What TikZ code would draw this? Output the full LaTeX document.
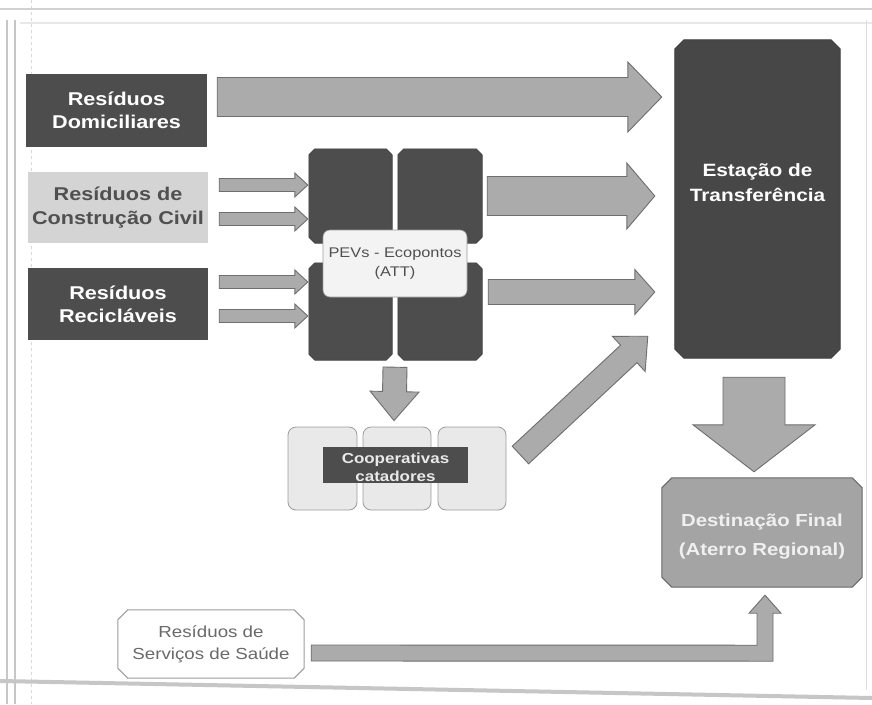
\documentclass[tikz,border=0pt]{standalone}
\usepackage{fontspec}
\setmainfont{Liberation Sans}[FakeStretch=1.17]
\usetikzlibrary{calc,backgrounds}

\definecolor{boxdark}{HTML}{4D4D4D}
\definecolor{boxdarker}{HTML}{474747}
\definecolor{boxlight}{HTML}{D4D4D4}
\definecolor{boxmid}{HTML}{A4A4A4}
\definecolor{boxmidline}{HTML}{686868}
\definecolor{arrowfill}{HTML}{ABABAB}
\definecolor{arrowline}{HTML}{6E6E6E}
\definecolor{panel}{HTML}{E9E9E9}
\definecolor{panelline}{HTML}{9C9C9C}
\definecolor{labelfill}{HTML}{F3F3F3}
\definecolor{textgray}{HTML}{505050}
\definecolor{framegray}{HTML}{C6C6C6}

% block arrow from #1 to #2: body half-width #3, head half-width #4, head length #5
\newcommand\flowarrow[5]{%
  \coordinate (fa-base) at ($(#2)!#5!(#1)$);
  \filldraw[flowstyle]
    ($(#1)!#3!90:(#2)$) -- ($(fa-base)!#3!-90:(#1)$) -- ($(fa-base)!#4!-90:(#1)$)
    -- (#2) -- ($(fa-base)!#4!90:(#1)$) -- ($(fa-base)!#3!90:(#1)$)
    -- ($(#1)!#3!-90:(#2)$) -- cycle;
}

% outline of node #1 with its corners cut by #2, painted with style #3
\newcommand\cutcorners[3]{%
  \filldraw[#3]
    ($(#1.north west)+(#2,0)$) -- ($(#1.north east)+(-#2,0)$) -- ($(#1.north east)+(0,#2)$)
    -- ($(#1.south east)+(0,-#2)$) -- ($(#1.south east)+(-#2,0)$) -- ($(#1.south west)+(#2,0)$)
    -- ($(#1.south west)+(0,-#2)$) -- ($(#1.north west)+(0,#2)$) -- cycle;
}

\begin{document}
\begin{tikzpicture}[x=1pt,y=-1pt,
  every node/.style={inner sep=0pt, align=center},
  flowstyle/.style={fill=arrowfill, draw=arrowline, line width=0.9pt, line join=miter},
  darkbox/.style={rectangle, fill=boxdark, text=white,
    font=\bfseries\fontsize{18.5}{23}\selectfont},
  lightbox/.style={rectangle, fill=boxlight, text=textgray,
    font=\bfseries\fontsize{18.5}{24}\selectfont},
  frame/.style={rectangle},
  pevfill/.style={fill=boxdark, draw=boxdark!80!black, line width=0.6pt, line join=round},
  pevlabel/.style={rectangle, rounded corners=7pt, fill=labelfill, draw=panelline,
    line width=0.6pt, text=textgray, font=\fontsize{14}{19}\selectfont},
  coopbox/.style={rectangle, rounded corners=8pt, fill=panel, draw=panelline, line width=0.8pt},
  cooplabel/.style={text=panel, font=\bfseries\fontsize{14.5}{18}\selectfont},
  stationfill/.style={fill=boxdarker, draw=boxdarker!80!black, line width=0.8pt, line join=round},
  finalfill/.style={fill=boxmid, draw=boxmidline, line width=1pt, line join=round},
  whitetext/.style={text=white, font=\bfseries\fontsize{17.8}{25}\selectfont},
  healthfill/.style={fill=white, draw=panelline, line width=1pt, line join=round},
  healthtext/.style={text=textgray!85, font=\fontsize{16}{22}\selectfont}
]
\useasboundingbox (0,0) rectangle (872,704);
\begin{scope}[on background layer]
  \fill[white] (0,0) rectangle (872,704);
\end{scope}

% page frame
\draw[framegray, line width=1.2pt] (7,20) -- (7,704);
\draw[framegray, line width=1.2pt] (15,20) -- (15,704);
\draw[framegray!70, line width=0.8pt, dashed] (31,0) -- (31,704);
\draw[framegray!80, line width=2pt] (0,9) -- (872,9);
\draw[framegray!40, line width=1.5pt] (20,23) -- (872,23);
\draw[framegray!60, line width=0.8pt] (866,20) -- (866,690);
\draw[framegray, line width=4pt] (0,681) -- (872,698);

% sources
\node[darkbox, minimum width=181pt, minimum height=73pt] (dom) at (116.5,110.5) {Resíduos\\Domiciliares};
\node[lightbox, minimum width=180pt, minimum height=71pt] (rcc) at (118,207.5) {Resíduos de\\Construção Civil};
\node[darkbox, minimum width=180pt, minimum height=72pt] (rec) at (118,304) {Resíduos\\Recicláveis};

% drop-off points (PEVs)
\node[frame, minimum width=83pt, minimum height=94pt] (p1) at (350.5,196) {};
\node[frame, minimum width=84pt, minimum height=94pt] (p2) at (440,196) {};
\node[frame, minimum width=83pt, minimum height=97pt] (p3) at (350.5,311.5) {};
\node[frame, minimum width=84pt, minimum height=97pt] (p4) at (440,311.5) {};
\begin{scope}[on background layer]
  \cutcorners{p1}{6}{pevfill}
  \cutcorners{p2}{6}{pevfill}
  \cutcorners{p3}{6}{pevfill}
  \cutcorners{p4}{6}{pevfill}
\end{scope}
\node[pevlabel, minimum width=144pt, minimum height=67pt] (pev) at (395,263.5) {PEVs - Ecopontos\\(ATT)};

% cooperatives
\node[coopbox, minimum width=69pt, minimum height=83pt] (c1) at (322.5,468.5) {};
\node[coopbox, minimum width=68pt, minimum height=83pt] (c2) at (397,468.5) {};
\node[coopbox, minimum width=68pt, minimum height=83pt] (c3) at (472,468.5) {};
\node[rectangle, fill=boxdark, minimum width=145pt, minimum height=36pt] (coopbar) at (395.5,465) {};
\node[cooplabel] (coop) at (395.5,467) {Cooperativas\\catadores};

% transfer station and final destination
\node[frame, minimum width=165pt, minimum height=318pt] (est) at (757.5,199) {};
\node[whitetext] (estlabel) at (757.5,183) {Estação de\\Transferência};
\node[frame, minimum width=200pt, minimum height=109pt] (dest) at (762,532.5) {};
\node[whitetext, text=white!94!black, font=\bfseries\fontsize{17.4}{29}\selectfont] (destlabel) at (762,537) {Destinação Final\\(Aterro Regional)};

% health-care waste
\node[frame, healthtext, minimum width=186pt, minimum height=68pt] (saude) at (211,644) {Resíduos de\\Serviços de Saúde};

\begin{scope}[on background layer]
  \cutcorners{est}{9}{stationfill}
  \cutcorners{dest}{10}{finalfill}
  \cutcorners{saude}{10}{healthfill}
\end{scope}

% arrow end points
\coordinate (a1s) at ($(dom.east)+(10,-13.5)$);
\coordinate (a1e) at ($(est.west)+(-13,-102)$);
\coordinate (r1s) at ($(rcc.east)+(11,-22.5)$);
\coordinate (r1e) at ($(p1.west)+(-1,-11)$);
\coordinate (r2s) at ($(rcc.east)+(11,11.5)$);
\coordinate (r2e) at ($(p1.west)+(-1,23)$);
\coordinate (k1s) at ($(rec.east)+(11,-22)$);
\coordinate (k1e) at ($(p3.west)+(-1,-29.5)$);
\coordinate (k2s) at ($(rec.east)+(11,12)$);
\coordinate (k2e) at ($(p3.west)+(-1,4.5)$);
\coordinate (a2s) at ($(p2.east)+(5,0)$);
\coordinate (a2e) at ($(est.west)+(-20,-3)$);
\coordinate (a3s) at ($(p4.east)+(6,-19.5)$);
\coordinate (a3e) at ($(est.west)+(-20,93)$);
\coordinate (a4s) at ($(p3.south east)!0.5!(p4.south west)+(0,7)$);
\coordinate (a4e) at ($(c2.north)+(-3,-6)$);
\coordinate (a5s) at ($(c3.east)+(14,-13.5)$);
\coordinate (a5e) at ($(est.south west)+(-27,-22)$);
\coordinate (a6s) at ($(est.south)+(-3.5,19)$);
\coordinate (a6e) at ($(dest.north)+(-8,-6)$);

% arrows
\flowarrow{a1s}{a1e}{19.5pt}{35pt}{34pt}
\flowarrow{r1s}{r1e}{6.5pt}{12pt}{13pt}
\flowarrow{r2s}{r2e}{6.5pt}{12pt}{13pt}
\flowarrow{k1s}{k1e}{6.5pt}{12pt}{13pt}
\flowarrow{k2s}{k2e}{6.5pt}{12pt}{13pt}
\flowarrow{a2s}{a2e}{19.5pt}{33pt}{28pt}
\flowarrow{a3s}{a3e}{12.5pt}{22.5pt}{20pt}
\flowarrow{a4s}{a4e}{12pt}{24.5pt}{29pt}
\flowarrow{a5s}{a5e}{12pt}{24pt}{26pt}
\flowarrow{a6s}{a6e}{31pt}{61pt}{47pt}

% bent arrow from health-care waste up to the landfill
\coordinate (hs) at ($(saude.east)+(7,9)$);
\coordinate (ht) at ($(dest.south)+(3,8)$);
\filldraw[flowstyle]
  ($(hs)+(0,-8)$) -- ($(ht)+(-8,50)$) -- ($(ht)+(-8,18)$) -- ($(ht)+(-16,18)$)
  -- (ht) -- ($(ht)+(16,18)$) -- ($(ht)+(8,18)$) -- ($(ht)+(8,66)$)
  -- ($(hs)+(0,8)$) -- cycle;
\end{tikzpicture}
\end{document}
